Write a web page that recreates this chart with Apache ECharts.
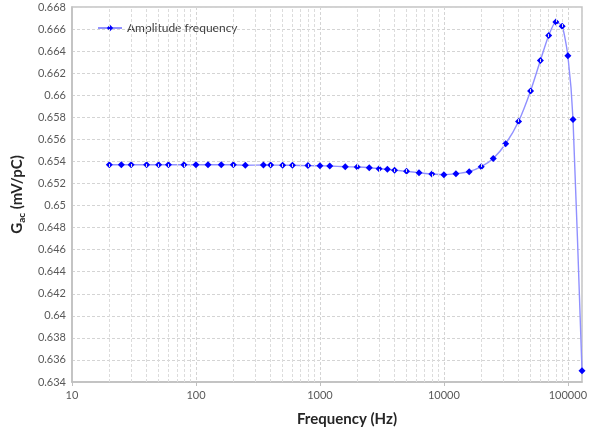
<!DOCTYPE html>
<html>
<head>
<meta charset="utf-8">
<script src="https://cdn.jsdelivr.net/npm/echarts@6/dist/echarts.min.js"></script>
<style>
  html, body { margin: 0; padding: 0; background: #ffffff; }
  #chart { width: 603px; height: 432px; }
</style>
</head>
<body>
<div id="chart"></div>
<script>
// Measured frequency response of the sensor gain
const frequencies = [
  20, 25, 30, 40, 50, 60, 80, 100, 125, 160, 200, 250, 350, 400, 500, 600, 800, 1000,
  1200, 1600, 2000, 2500, 3000, 3500, 4000, 5000, 6300, 8000, 10000, 12500, 16000,
  20000, 25000, 31500, 40000, 50000, 60000, 70000, 80000, 90000, 100000, 110000, 130000
];
const gain = [
  0.6537, 0.6537, 0.6537, 0.6537, 0.6537, 0.6537, 0.6537, 0.6537, 0.6537, 0.6537, 0.6537,
  0.65365, 0.65368, 0.65367, 0.65366, 0.65365, 0.65362, 0.6536,
  0.65358, 0.65352, 0.65349, 0.65343, 0.65334, 0.65328, 0.65321, 0.6531, 0.65298, 0.65286,
  0.6528, 0.65289, 0.65307, 0.65352, 0.65427, 0.6556,
  0.65762, 0.66039, 0.66315, 0.66541, 0.66665, 0.66626, 0.66358, 0.6578, 0.63502
];
const seriesName = 'Amplitude frequency';

// Minor log-grid positions: 2..9 within each decade
const minorGrid = [];
for (let decade = 10; decade <= 10000; decade *= 10) {
  for (let m = 2; m <= 9; m++) minorGrid.push(m * decade);
}

const labelFont = 'Lato, "Open Sans", sans-serif';
const gridLine = { color: '#d4d4d4', width: 1, type: [3, 2] };

const chart = echarts.init(document.getElementById('chart'), null, { renderer: 'canvas' });
chart.setOption({
  animation: false,
  backgroundColor: '#ffffff',
  grid: {
    left: 72, right: 21, top: 7, bottom: 48,
    show: true, borderColor: '#c4c4c4', borderWidth: 1.5, backgroundColor: 'transparent'
  },
  legend: {
    data: [seriesName],
    left: 92, top: 17,
    itemWidth: 24, itemHeight: 8, itemGap: 4,
    textStyle: { fontFamily: labelFont, fontSize: 12, color: '#404040' }
  },
  xAxis: {
    type: 'log',
    logBase: 10,
    min: 10,
    max: 130000,
    name: 'Frequency (Hz)',
    nameLocation: 'middle',
    nameGap: 30,
    nameTextStyle: { fontFamily: labelFont, fontSize: 15, fontWeight: 'bold', color: '#262626', padding: [0, 0, 0, 40] },
    axisLine: { lineStyle: { color: '#bfbfbf', width: 1.5 } },
    axisTick: { show: true, length: 4, lineStyle: { color: '#bfbfbf' } },
    axisLabel: {
      fontFamily: labelFont, fontSize: 11, color: '#595959', margin: 8,
      showMaxLabel: false,
      formatter: v => String(Math.round(v))
    },
    splitLine: { show: true, lineStyle: gridLine }
  },
  yAxis: {
    type: 'value',
    min: 0.634,
    max: 0.668,
    interval: 0.002,
    name: '{g|G}{s|ac}{g| (mV/pC)}',
    nameLocation: 'middle',
    nameGap: 40,
    nameTextStyle: {
      rich: {
        g: { fontFamily: labelFont, fontSize: 15, fontWeight: 'bold', color: '#262626', lineHeight: 20 },
        s: { fontFamily: labelFont, fontSize: 10, fontWeight: 'bold', color: '#262626', lineHeight: 10, verticalAlign: 'bottom' }
      }
    },
    axisLine: { show: true, lineStyle: { color: '#bfbfbf', width: 1.5 } },
    axisTick: { show: false },
    axisLabel: {
      fontFamily: labelFont, fontSize: 11, color: '#595959', margin: 6,
      formatter: v => String(parseFloat(v.toFixed(3)))
    },
    splitLine: { show: true, lineStyle: gridLine }
  },
  series: [
    {
      name: 'minor-grid',
      type: 'line',
      data: [],
      silent: true,
      z: 1,
      markLine: {
        silent: true,
        symbol: ['none', 'none'],
        label: { show: false },
        lineStyle: { color: '#dcdcdc', width: 1, type: [3, 2] },
        data: minorGrid.map(v => ({ xAxis: v }))
      }
    },
    {
      name: seriesName,
      type: 'line',
      z: 3,
      data: frequencies.map((f, i) => [f, gain[i]]),
      smooth: 0.2,
      symbol: 'diamond',
      symbolSize: 7,
      itemStyle: { color: '#0000ff', borderWidth: 0 },
      lineStyle: { color: '#9090ff', width: 1.4 }
    }
  ]
});
</script>
</body>
</html>
